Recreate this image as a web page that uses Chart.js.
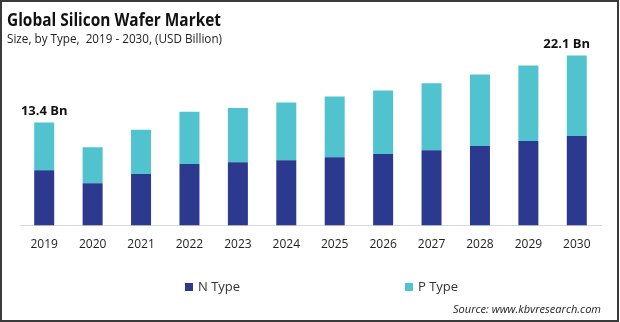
<!DOCTYPE html>
<html>
<head>
<meta charset="utf-8">
<script src="https://cdn.jsdelivr.net/npm/chart.js@4"></script>
<style>
  html, body { margin: 0; padding: 0; background: #fff; }
  #chart { display: block; }
</style>
</head>
<body>
<canvas id="chart" width="620" height="322"></canvas>
<script>
// Values (USD Billion)
const years = ['2019', '2020', '2021', '2022', '2023', '2024', '2025', '2026', '2027', '2028', '2029', '2030'];
const nType = [7.2, 5.5, 6.7, 8.0, 8.25, 8.5, 8.9, 9.3, 9.8, 10.35, 11.0, 11.65];
const pType = [6.2, 4.7, 5.75, 6.8, 7.05, 7.5, 7.9, 8.25, 8.7, 9.3, 9.8, 10.45];
const totalLabels = { 0: '13.4 Bn', 11: '22.1 Bn' };

const navy = '#2b3a8e';
const teal = '#50c3cf';

// Titles, legend, source, value labels and frame
const decorPlugin = {
    id: 'decor',
    afterDraw(chart) {
        const ctx = chart.ctx;
        ctx.save();
        ctx.textBaseline = 'alphabetic';
        ctx.textAlign = 'left';

        ctx.fillStyle = '#111';
        ctx.font = 'bold 17px "Open Sans"';
        ctx.fillText('Global Silicon Wafer Market', 7, 26, 214);

        ctx.fillStyle = '#222';
        ctx.font = '13px "Open Sans"';
        ctx.fillText('Size, by Type,  2019 - 2030, (USD Billion)', 7, 43, 215);

        // labels over first and last bars
        const meta = chart.getDatasetMeta(1);
        ctx.font = 'bold 13px "Open Sans"';
        ctx.fillStyle = '#111';
        ctx.textBaseline = 'middle';
        ctx.textAlign = 'center';
        Object.keys(totalLabels).forEach(i => {
            const bar = meta.data[i];
            const txt = totalLabels[i];
            const w = Math.min(ctx.measureText(txt).width, 47);
            const x = Math.min(bar.x, 590 - w / 2);
            ctx.fillText(txt, x, bar.y - 11, 47);
        });

        // legend
        ctx.textAlign = 'left';
        ctx.font = '13px "Open Sans"';
        ctx.fillStyle = navy;
        ctx.fillRect(185, 283, 8, 8);
        ctx.fillStyle = '#333';
        ctx.fillText('N Type', 198, 287.5);
        ctx.fillStyle = teal;
        ctx.fillRect(405, 283, 8, 8);
        ctx.fillStyle = '#333';
        ctx.fillText('P Type', 418, 287.5);

        // source
        ctx.textAlign = 'right';
        ctx.font = 'italic 11.5px "Open Sans"';
        ctx.fillStyle = '#222';
        ctx.fillText('Source: www.kbvresearch.com', 601, 310, 148);

        // frame
        ctx.strokeStyle = '#3a3a3a';
        ctx.lineWidth = 2;
        ctx.strokeRect(1, 1, 617, 320);
        ctx.restore();
    }
};

const ctx = document.getElementById('chart').getContext('2d');
const chart = new Chart(ctx, {
    type: 'bar',
    data: {
        labels: years,
        datasets: [
            { label: 'N Type', data: nType, backgroundColor: navy },
            { label: 'P Type', data: pType, backgroundColor: teal }
        ]
    },
    options: {
        responsive: false,
        animation: false,
        barPercentage: 0.413,
        categoryPercentage: 1,
        layout: { padding: { left: 20, right: 19, top: 41, bottom: 58 } },
        plugins: {
            legend: { display: false },
            tooltip: { enabled: false }
        },
        scales: {
            x: {
                stacked: true,
                grid: { display: false, drawTicks: false },
                border: { color: '#d9d9d9', width: 1 },
                ticks: { color: '#222', font: { family: 'Open Sans', size: 12 }, padding: 12 }
            },
            y: {
                stacked: true,
                display: false,
                min: 0,
                max: 24
            }
        }
    },
    plugins: [decorPlugin]
});
</script>
</body>
</html>
